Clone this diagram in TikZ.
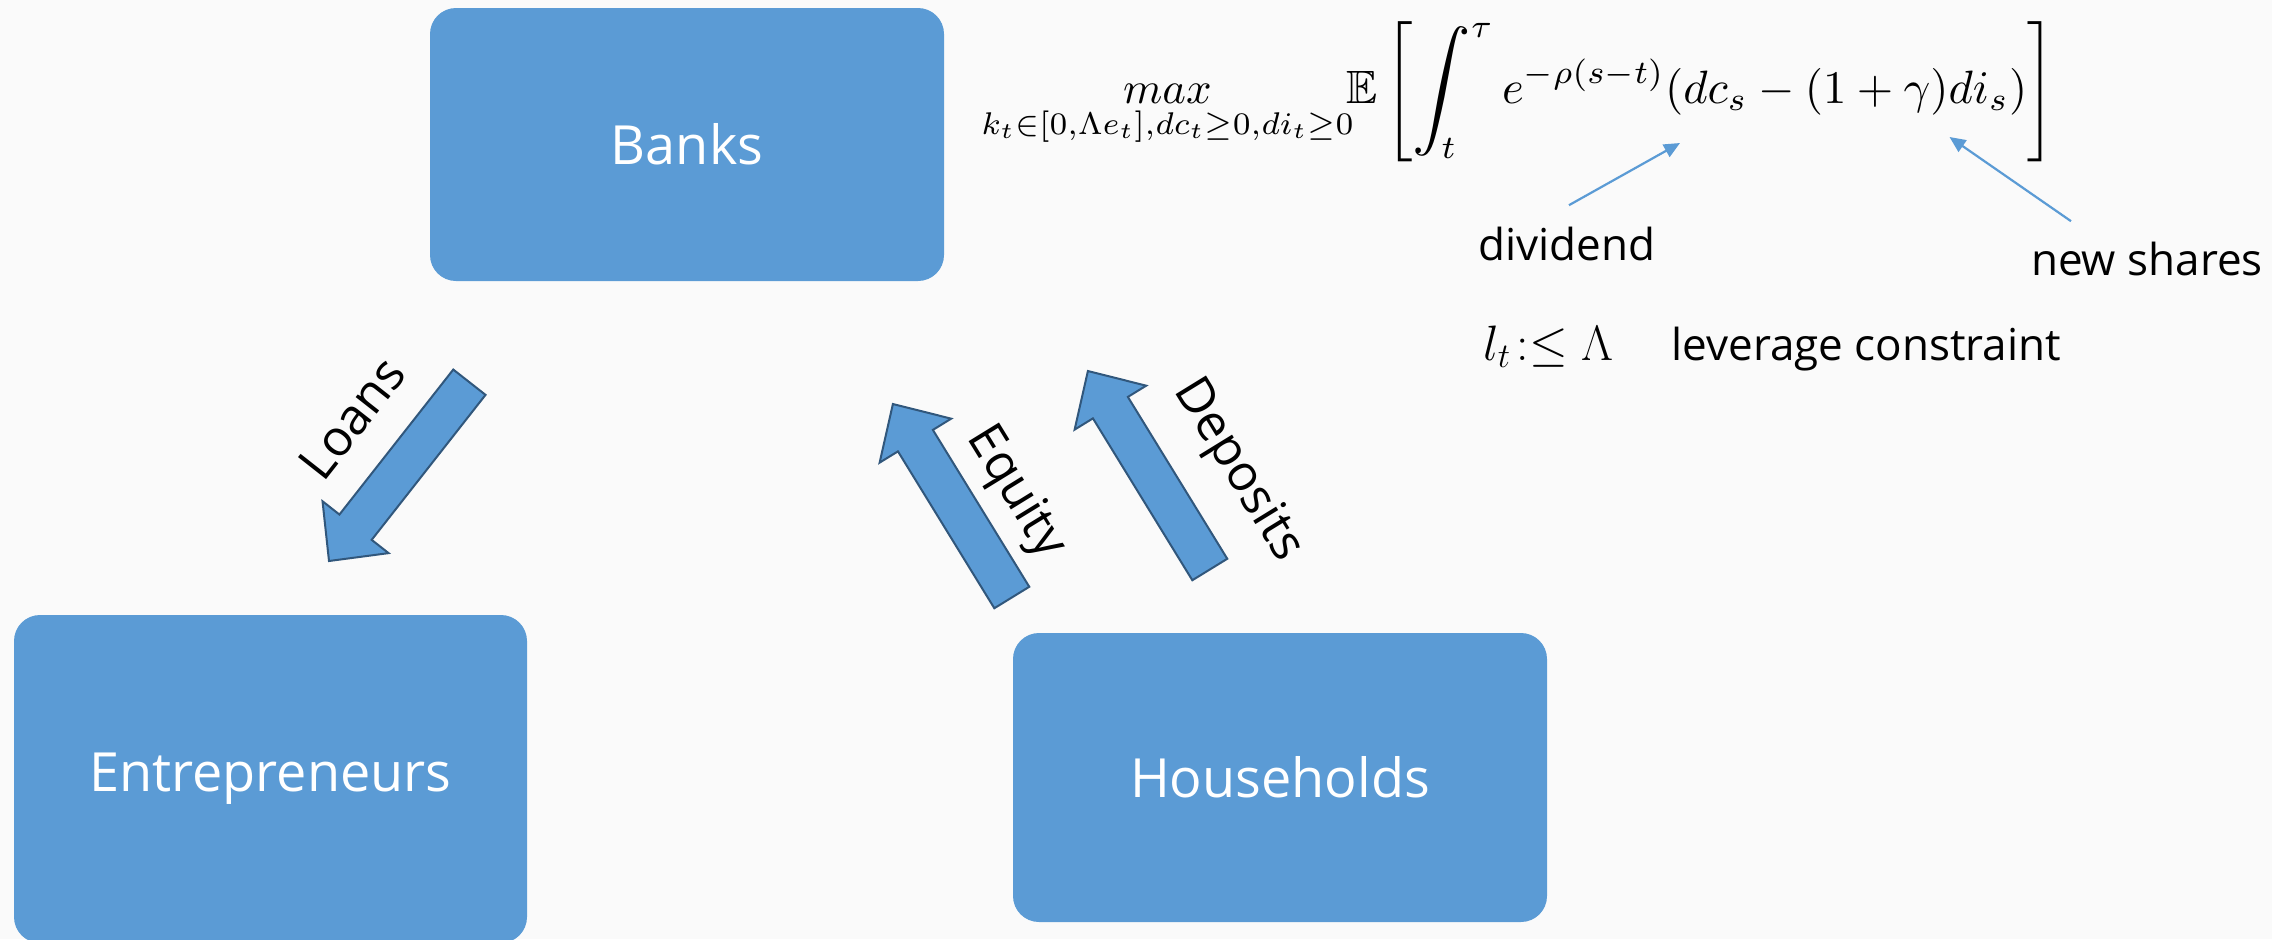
\documentclass[tikz,border=0pt]{standalone}
\usepackage{amsmath,amssymb}
\usepackage{fontspec}
\setmainfont{Open Sans}
\usetikzlibrary{calc,arrows.meta}
\definecolor{bg}{RGB}{250,250,250}
\definecolor{boxblue}{RGB}{91,155,213}
\definecolor{arrline}{RGB}{49,87,124}
\definecolor{thinblue}{RGB}{91,155,213}
\tikzset{
  agent/.style={fill=boxblue, draw=none, rounded corners=13pt, text=white,
    font=\fontsize{27}{32}\selectfont, inner sep=0pt},
  blockarr/.style={fill=boxblue, draw=arrline, line width=1pt, line join=miter},
  flowlabel/.style={font=\fontsize{25}{30}\selectfont, text=black, inner sep=0pt},
  note/.style={font=\fontsize{22}{26}\selectfont, text=black, inner sep=0pt},
  pointer/.style={draw=thinblue, line width=1.1pt, -{Triangle[length=8pt,width=7pt]}},
}
% #1 name, #2 tail centre, #3 tip
\newcommand\blockarrow[3]{%
  \coordinate (#1-b) at ($(#3)!21.5pt!(#2)$);
  \draw[blockarr] ($(#2)!10.25pt!90:(#3)$) -- ($(#1-b)!10.25pt!90:(#3)$)
     -- ($(#1-b)!21pt!90:(#3)$) -- (#3) -- ($(#1-b)!21pt!-90:(#3)$)
     -- ($(#1-b)!10.25pt!-90:(#3)$) -- ($(#2)!10.25pt!-90:(#3)$) -- cycle;
}
\newcommand\bigintegral{\mathop{\vcenter{\hbox{\scalebox{1.25}{$\displaystyle\intop$}}}}\nolimits}
\begin{document}
\begin{tikzpicture}[x=0.5pt,y=-0.5pt]
\fill[bg] (0,0) rectangle (2272,939);
\useasboundingbox (0,0) rectangle (2272,939);
\clip (0,0) rectangle (2272,939);

% agents
\node[agent, minimum width=257pt, minimum height=136.5pt] (banks) at (687,144.5) {Banks};
\node[agent, minimum width=256.5pt, minimum height=164pt] (entre) at (270.5,779) {Entrepreneurs};
\node[agent, minimum width=267pt, minimum height=144.5pt] (house) at (1280,777.5) {Households};

% block arrows
\coordinate (loans-t) at (469.4,382.2);
\coordinate (loans-p) at (329,561);
\coordinate (equity-t) at (1011.8,597.5);
\coordinate (equity-p) at (892.9,404);
\coordinate (dep-t) at (1209.8,569.5);
\coordinate (dep-p) at (1087.9,371);
\blockarrow{loans}{loans-t}{loans-p}
\blockarrow{equity}{equity-t}{equity-p}
\blockarrow{dep}{dep-t}{dep-p}

\node[flowlabel, rotate=51.8] (loanslbl) at (352,418) {Loans};
\node[flowlabel, rotate=-58.4] (equitylbl) at (1015,493) {Equity};
\node[flowlabel, rotate=-58.4] (deplbl) at (1237,471) {Deposits};

% objective
\node[anchor=base west, inner sep=0pt] (objective) at (981,103) {%
  \resizebox{186pt}{!}{$\displaystyle
  \mathop{max}\limits_{k_t\in[0,\Lambda e_t],dc_t\geq0,di_t\geq0}$}%
  \hspace{-3.5pt}%
  \resizebox{354pt}{!}{$\displaystyle
  \mathbb{E}\left[\vrule height 1.65em depth 1.15em width 0pt
  \bigintegral_{\mkern-14mu t}^{\tau} e^{-\rho(s-t)}(dc_s-(1+\gamma)di_s)\right]$}};

% annotations
\node[note, anchor=base] (dividend) at (1567,260) {dividend};
\node[note, anchor=base] (newshares) at (2147,275) {new shares};
\coordinate (divtip) at (1680,143);
\coordinate (nstip) at (1949.5,137);
\draw[pointer] ($(dividend.north)+(2,-21)$) -- (divtip);
\draw[pointer] ($(newshares.north)+(-76,-20)$) -- (nstip);

\node[note, anchor=base west, font=\fontsize{25}{30}\selectfont] (lev) at (1483,360) {$l_t\!:\leq\Lambda$};
\node[note, anchor=base west] (levtxt) at (1671,360) {leverage constraint};
\end{tikzpicture}
\end{document}
